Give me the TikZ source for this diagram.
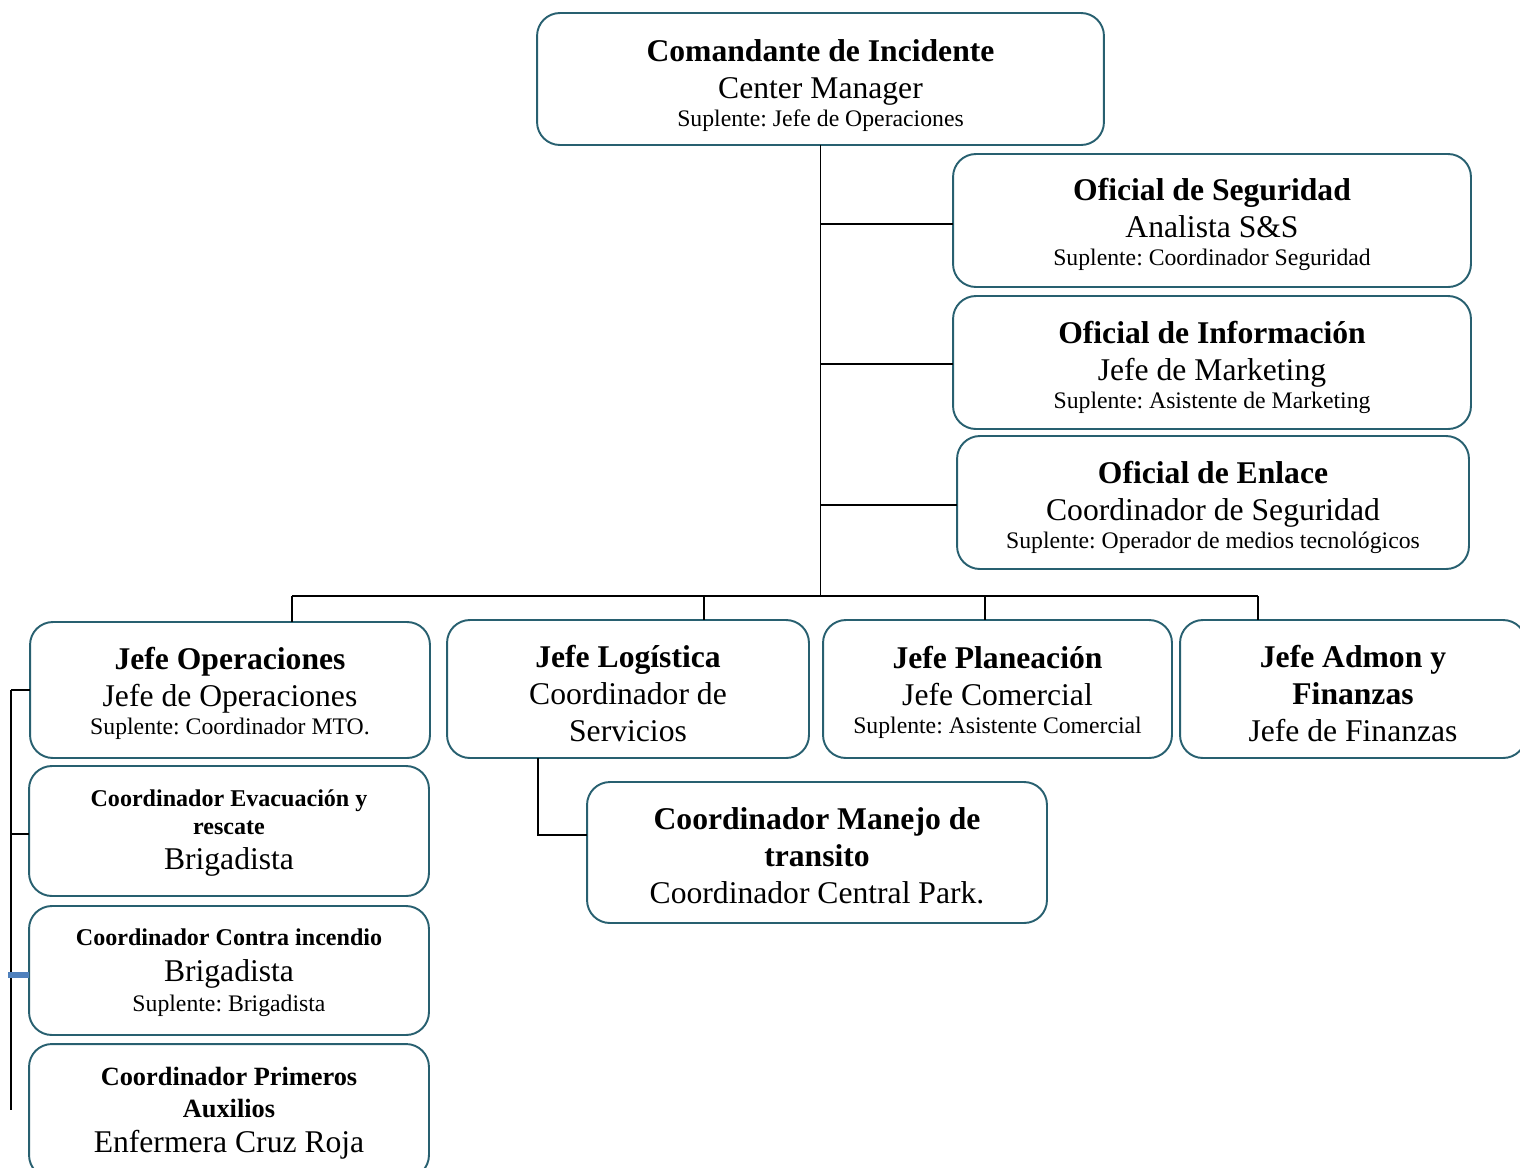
\documentclass[tikz,border=0pt]{standalone}
\usepackage{fontspec}
\setmainfont{Liberation Serif}
\usetikzlibrary{calc}
\definecolor{borde}{RGB}{40,96,112}
\definecolor{azul}{RGB}{79,129,189}
\frenchspacing
\newcommand{\tit}[1]{{\fontsize{18}{21}\selectfont\bfseries #1}}
\newcommand{\titp}[1]{{\fontsize{13.7}{16}\selectfont\bfseries #1}}
\newcommand{\supl}[1]{{\fontsize{13.5}{16}\selectfont #1}}
\newcommand{\arr}[1][18pt]{\rule{0pt}{#1}}
\tikzset{caja/.style={draw=borde, line width=1.1pt, rounded corners=13pt, align=center,
    inner sep=0pt, outer sep=0pt, font=\fontsize{18}{21}\selectfont\frenchspacing},
  linea/.style={line width=1.1pt}}

\begin{document}
\begin{tikzpicture}[x=0.02cm, y=-0.02cm]
  \useasboundingbox (0,0) rectangle (1520,1167);
  \node (CI) [caja, minimum width=11.34cm, minimum height=2.64cm] at (820.5,79)
    {\arr[20.5pt]\tit{Comandante de Incidente}\\ Center Manager\\[-5pt] \supl{Suplente: Jefe de Operaciones}};
  \node (OS) [caja, minimum width=10.36cm, minimum height=2.66cm] at (1212,220.5)
    {\arr[17.5pt]\tit{Oficial de Seguridad}\\ Analista S\&S\\[-5pt] \supl{Suplente: Coordinador Seguridad}};
  \node (OI) [caja, minimum width=10.36cm, minimum height=2.66cm] at (1212,362.5)
    {\arr\tit{Oficial de Información}\\ Jefe de Marketing\\[-5pt] \supl{Suplente: Asistente de Marketing}};
  \node (OE) [caja, minimum width=10.24cm, minimum height=2.66cm] at (1213,502.5)
    {\arr\tit{Oficial de Enlace}\\ Coordinador de Seguridad\\[-5pt] \supl{Suplente: Operador de medios tecnológicos}};
  \node (JO) [caja, minimum width=8cm, minimum height=2.72cm] at (230,690)
    {\arr[16.5pt]\tit{Jefe Operaciones}\\ Jefe de Operaciones\\[-5pt] \supl{Suplente: Coordinador MTO.}};
  \node (JL) [caja, minimum width=7.24cm, minimum height=2.76cm] at (628,689)
    {\arr\tit{Jefe Logística}\\ Coordinador de\\ Servicios};
  \node (JP) [caja, minimum width=6.98cm, minimum height=2.76cm] at (997.5,689)
    {\arr[16.5pt]\tit{Jefe Planeación}\\ Jefe Comercial\\[-5pt] \supl{Suplente: Asistente Comercial}};
  \node (JA) [caja, minimum width=6.92cm, minimum height=2.76cm] at (1353,689)
    {\arr\tit{Jefe Admon y}\\ \tit{Finanzas}\\ Jefe de Finanzas};
  \node (CM) [caja, minimum width=9.2cm, minimum height=2.82cm] at (817,852.5)
    {\arr[16pt]\tit{Coordinador Manejo de}\\ \tit{transito}\\ Coordinador Central Park.};
  \node (CE) [caja, minimum width=8cm, minimum height=2.6cm] at (229,831)
    {\arr[12pt]\titp{Coordinador Evacuación y}\\[-5pt] \titp{rescate}\\[-1pt] Brigadista};
  \node (CC) [caja, minimum width=8cm, minimum height=2.58cm] at (229,970.5)
    {\arr[12pt]\titp{Coordinador Contra incendio}\\[-1pt] Brigadista\\[-4pt] \supl{Suplente: Brigadista}};
  \node (CP) [caja, minimum width=8cm, minimum height=2.68cm] at (229,1111)
    {\arr[13pt]{\fontsize{15}{18}\selectfont\bfseries Coordinador Primeros}\\[-3pt]
     {\fontsize{15}{18}\selectfont\bfseries Auxilios}\\[-1pt] Enfermera Cruz Roja};

  % tronco y ramas
  \coordinate (b0) at (820.5,596);
  \coordinate (d1) at (292,596);
  \coordinate (d2) at (704,596);
  \coordinate (d3) at (985,596);
  \coordinate (d4) at (1258,596);
  \draw[linea] (CI.south) -- (b0);
  \draw[linea] ($(OS.west)+(0,3.5)$) -- ($(OS.west -| CI.south)+(0,3.5)$);
  \draw[linea] ($(OI.west)+(0,1.5)$) -- ($(OI.west -| CI.south)+(0,1.5)$);
  \draw[linea] ($(OE.west)+(0,2.5)$) -- ($(OE.west -| CI.south)+(0,2.5)$);
  \draw[line width=1.6pt] (d1) -- (d4);
  \draw[linea] (d1) -- (d1 |- JO.north);
  \draw[linea] (d2) -- (d2 |- JL.north);
  \draw[linea] (d3) -- (d3 |- JP.north);
  \draw[linea] (d4) -- (d4 |- JA.north);

  % logistica
  \coordinate (m) at (538,835);
  \draw[linea] (m |- JL.south) -- (m) -- (m -| CM.west);

  % operaciones
  \coordinate (l1) at (11,690);
  \coordinate (l2) at (11,1110);
  \draw[linea] (l1) -- (l2);
  \draw[linea] (l1) -- (JO.west);
  \draw[linea] ($(CE.west -| l1)+(0,3)$) -- ($(CE.west)+(0,3)$);
  \draw[azul, line width=3pt] ($(CC.west -| l1)+(-3,4.5)$) -- ($(CC.west)+(0,4.5)$);
\end{tikzpicture}
\end{document}
